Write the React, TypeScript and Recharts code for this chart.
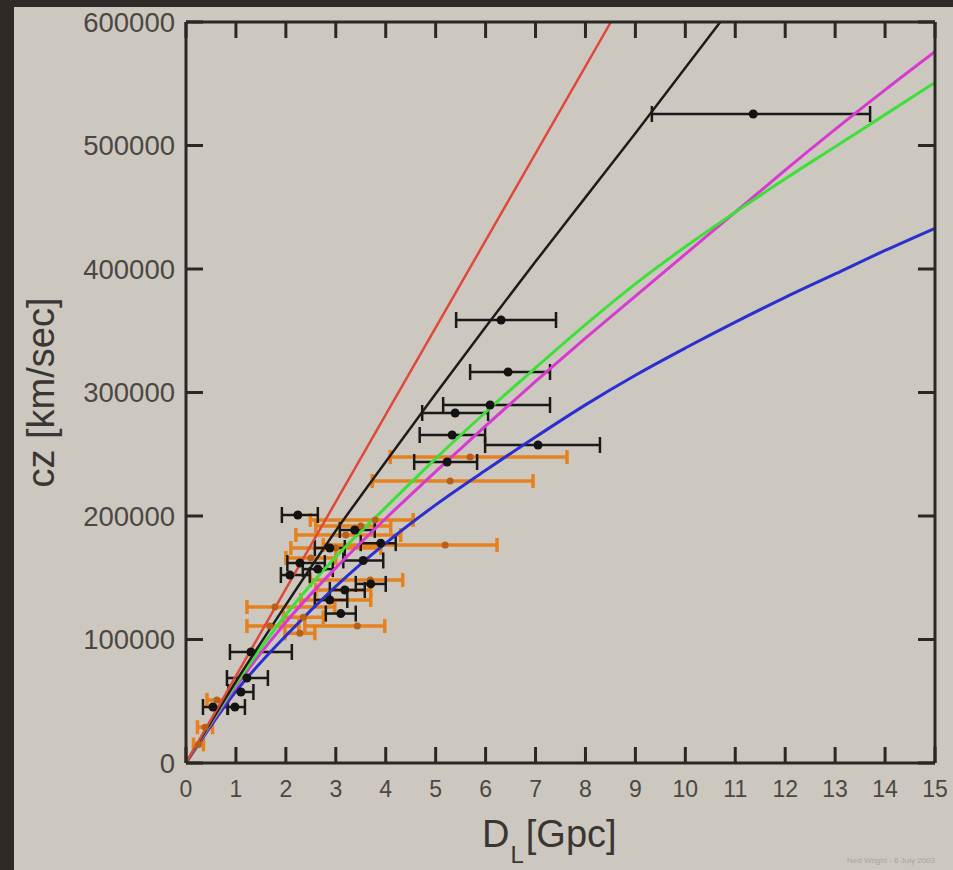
import React from 'react';
import { ComposedChart, Line, Scatter, XAxis, YAxis, ErrorBar } from 'recharts';

// ---------- tick labels ----------
const xTicks = [0, 1, 2, 3, 4, 5, 6, 7, 8, 9, 10, 11, 12, 13, 14, 15];
const yTicks = [0, 100000, 200000, 300000, 400000, 500000, 600000];

// ---------- model curves (D_L in Gpc, cz in km/s) ----------
const modelD = [0, 1, 2, 3, 4, 5, 6, 7, 8, 9, 10, 11, 12, 13, 14, 15];
const greenCz = [0, 64000, 120000, 167000, 207000, 246500, 284000, 320000, 355000, 388000, 418000, 446000, 473000, 499000, 525000, 551000];
const magentaCz = [0, 62000, 114000, 158000, 198000, 236000, 273000, 309000, 344000, 378000, 412000, 446000, 480000, 513000, 545000, 576000];
const blueCz = [0, 58000, 103000, 143000, 178000, 209000, 237000, 264000, 290000, 314000, 336000, 357000, 377000, 396000, 415000, 433000];
const blackD = [0, 1, 2, 3, 4, 5, 6, 7, 8, 9, 10, 10.7];
const blackCz = [0, 66000, 128000, 188000, 244000, 299000, 353000, 406000, 458000, 510000, 563000, 600000];
const redD = [0, 4, 8.51];
const redCz = [0, 282000, 600000];

// ---------- black data points ----------
const blackPtD = [11.36, 6.31, 6.45, 6.09, 5.39, 5.33, 7.05, 5.23, 2.24, 2.08, 2.88, 3.38, 2.28, 3.18, 3.7, 2.88, 3.55, 3.9, 2.64, 3.1, 1.3, 1.22, 1.1, 0.54, 0.98];
const blackPtCz = [525500, 358700, 316600, 289900, 283400, 265600, 257500, 243700, 200800, 152200, 174100, 188700, 161900, 140100, 145000, 132000, 164000, 178000, 157000, 121000, 89900, 68800, 57500, 45300, 45300];
const blackErrLo = [2.03, 0.9, 0.76, 0.94, 0.66, 0.65, 1.06, 0.66, 0.32, 0.18, 0.3, 0.3, 0.25, 0.3, 0.3, 0.3, 0.4, 0.4, 0.3, 0.3, 0.42, 0.4, 0.25, 0.2, 0.15];
const blackErrHi = [2.34, 1.1, 0.84, 1.2, 0.66, 0.66, 1.24, 0.6, 0.4, 0.4, 0.3, 0.4, 0.5, 0.4, 0.3, 0.35, 0.4, 0.3, 0.3, 0.3, 0.82, 0.42, 0.25, 0.3, 0.2];

// ---------- orange data points ----------
const orangePtD = [5.69, 5.29, 5.19, 3.79, 3.2, 3.0, 3.69, 3.2, 2.9, 1.78, 1.68, 3.43, 2.35, 2.5, 3.5, 2.28, 0.38, 0.62, 0.25];
const orangePtCz = [247700, 228300, 176500, 196800, 184600, 174000, 148200, 140000, 132000, 126300, 110900, 110900, 118000, 166000, 192000, 105000, 29000, 51000, 15000];
const orangeErrLo = [1.6, 1.56, 2.44, 1.3, 1.0, 0.9, 1.2, 0.6, 0.6, 0.56, 0.46, 1.05, 0.4, 0.5, 0.9, 0.3, 0.15, 0.2, 0.1];
const orangeErrHi = [1.94, 1.66, 1.04, 0.76, 1.1, 0.9, 0.65, 0.5, 0.8, 1.2, 0.58, 0.55, 0.4, 0.5, 0.6, 0.3, 0.15, 0.2, 0.1];

const toSeries = (ds: number[], cs: number[]) => ds.map((d, i) => ({ d, cz: cs[i] }));
const toPts = (ds: number[], cs: number[], lo: number[], hi: number[]) =>
  ds.map((d, i) => ({ d, cz: cs[i], ex: [lo[i], hi[i]] }));

const greenData = toSeries(modelD, greenCz);
const magentaData = toSeries(modelD, magentaCz);
const blueData = toSeries(modelD, blueCz);
const blackData = toSeries(blackD, blackCz);
const redData = toSeries(redD, redCz);
const blackPts = toPts(blackPtD, blackPtCz, blackErrLo, blackErrHi);
const orangePts = toPts(orangePtD, orangePtCz, orangeErrLo, orangeErrHi);

const AXIS = '#2a2725';
const LABEL = '#4b4744';
const FONT = '"Liberation Sans", Arial, Helvetica, sans-serif';

const BottomTick = (p: any) => {
  const { x, y, payload } = p;
  return (
    <g>
      <line x1={x} x2={x} y1={y} y2={y - 16} stroke={AXIS} strokeWidth={3} />
      <text x={x} y={y + 34} textAnchor="middle" fontSize={23} fill={LABEL} fontFamily={FONT}>
        {payload.value}
      </text>
    </g>
  );
};
const TopTick = (p: any) => {
  const { x, y } = p;
  return <line x1={x} x2={x} y1={y} y2={y + 16} stroke={AXIS} strokeWidth={3} />;
};
const LeftTick = (p: any) => {
  const { x, y, payload } = p;
  return (
    <g>
      <line x1={x} x2={x + 17} y1={y} y2={y} stroke={AXIS} strokeWidth={3} />
      <text x={x - 11} y={y} dy="0.36em" textAnchor="end" fontSize={27.5} fill={LABEL} fontFamily={FONT}>
        {payload.value}
      </text>
    </g>
  );
};
const RightTick = (p: any) => {
  const { x, y } = p;
  return <line x1={x} x2={x - 17} y1={y} y2={y} stroke={AXIS} strokeWidth={3} />;
};

const XTitle = (props: any) => {
  const vb = props.viewBox || { x: 186, y: 763, width: 749, height: 107 };
  const sx = vb.x + 296;
  return (
    <g>
      <text x={sx} y={vb.y + 84} fontSize={38} fill="#3a3633" fontFamily={FONT}>
        <tspan>D</tspan>
        <tspan fontSize={24} dy={16} dx={1}>L</tspan>
        <tspan dy={-16} dx={2}>[Gpc]</tspan>
      </text>
      <text x={vb.x + vb.width} y={vb.y + 100} textAnchor="end" fontSize={8} fill="#a9a49c" fontFamily={FONT}>
        Ned Wright - 6 July 2003
      </text>
    </g>
  );
};
const YTitle = (props: any) => {
  const vb = props.viewBox || { x: 0, y: 22, width: 186, height: 741 };
  const cx = vb.x + 41;
  const cy = vb.y + vb.height / 2;
  return (
    <text x={cx} y={cy} transform={`rotate(-90 ${cx} ${cy})`} textAnchor="middle" dy="0.35em" fontSize={38} fill="#3a3633" fontFamily={FONT}>
      cz [km/sec]
    </text>
  );
};

const Dot = (color: string, r: number) => (props: any) =>
  props.cx == null ? null : <circle cx={props.cx} cy={props.cy} r={r} fill={color} />;
const NoShape = () => null;

export default function App() {
  return (
    <div style={{ position: 'absolute', left: 0, top: 0, width: 953, height: 870, background: '#2e2a28', overflow: 'hidden' }}>
      <div style={{ position: 'absolute', left: 14, top: 7, right: 0, bottom: 0, background: '#cdc8bf' }} />
      <div style={{ position: 'absolute', left: 0, top: 0 }}>
        <ComposedChart width={953} height={870} margin={{ top: 21, right: 17, bottom: 0, left: 0 }}>
          <XAxis
            xAxisId="b"
            dataKey="d"
            type="number"
            domain={[0, 15]}
            ticks={xTicks}
            interval={0}
            height={107}
            tickSize={0}
            tickMargin={0}
            tickLine={false}
            tick={BottomTick}
            axisLine={{ stroke: AXIS, strokeWidth: 3 }}
            allowDataOverflow
            label={{ content: XTitle } as any}
          />
          <XAxis
            xAxisId="t"
            orientation="top"
            dataKey="d"
            type="number"
            domain={[0, 15]}
            ticks={xTicks}
            interval={0}
            height={1}
            tickSize={0}
            tickMargin={0}
            tickLine={false}
            tick={TopTick}
            axisLine={{ stroke: AXIS, strokeWidth: 3 }}
            allowDataOverflow
          />
          <YAxis
            yAxisId="l"
            dataKey="cz"
            type="number"
            domain={[0, 600000]}
            ticks={yTicks}
            interval={0}
            width={186}
            tickSize={0}
            tickMargin={0}
            tickLine={false}
            tick={LeftTick}
            axisLine={{ stroke: AXIS, strokeWidth: 3 }}
            allowDataOverflow
            label={{ content: YTitle } as any}
          />
          <YAxis
            yAxisId="r"
            orientation="right"
            dataKey="cz"
            type="number"
            domain={[0, 600000]}
            ticks={yTicks}
            interval={0}
            width={1}
            tickSize={0}
            tickMargin={0}
            tickLine={false}
            tick={RightTick}
            axisLine={{ stroke: AXIS, strokeWidth: 3 }}
            allowDataOverflow
          />

          <Scatter data={redData} xAxisId="t" yAxisId="r" dataKey="cz" shape={NoShape} isAnimationActive={false} />

          <Scatter data={orangePts} xAxisId="b" yAxisId="l" dataKey="cz" shape={Dot('#b8601a', 3.5)} isAnimationActive={false}>
            <ErrorBar dataKey="ex" direction="x" width={7} stroke="#e5821e" strokeWidth={3.5} />
          </Scatter>
          <Scatter data={blackPts} xAxisId="b" yAxisId="l" dataKey="cz" shape={Dot('#141312', 4.5)} isAnimationActive={false}>
            <ErrorBar dataKey="ex" direction="x" width={8} stroke="#1a1918" strokeWidth={2.5} />
          </Scatter>

          <Line data={blueData} xAxisId="b" yAxisId="l" dataKey="cz" type="monotone" stroke="#2c2fcf" strokeWidth={3} dot={false} isAnimationActive={false} />
          <Line data={magentaData} xAxisId="b" yAxisId="l" dataKey="cz" type="monotone" stroke="#d63ad0" strokeWidth={3} dot={false} isAnimationActive={false} />
          <Line data={greenData} xAxisId="b" yAxisId="l" dataKey="cz" type="monotone" stroke="#3fdf3a" strokeWidth={3} dot={false} isAnimationActive={false} />
          <Line data={blackData} xAxisId="b" yAxisId="l" dataKey="cz" type="monotone" stroke="#1e1c1b" strokeWidth={2.5} dot={false} isAnimationActive={false} />
          <Line data={redData} xAxisId="b" yAxisId="l" dataKey="cz" type="linear" stroke="#e0483b" strokeWidth={2.5} dot={false} isAnimationActive={false} />
        </ComposedChart>
      </div>
    </div>
  );
}
